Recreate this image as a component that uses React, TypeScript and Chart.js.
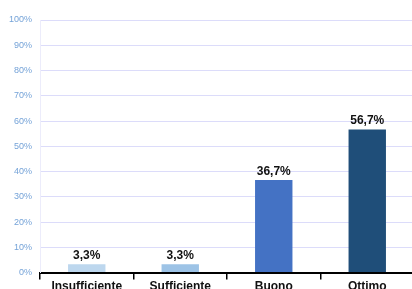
import React, { useEffect, useRef } from "react";
import { Chart, registerables } from "chart.js";

Chart.register(...registerables);

const categories = ["Insufficiente", "Sufficiente", "Buono", "Ottimo"];
const values = [3.3, 3.3, 36.7, 56.7];
const barColors = ["#bdd7ee", "#9dc3e6", "#4472c4", "#1f4e79"];
const valueLabels = ["3,3%", "3,3%", "36,7%", "56,7%"];

const dataLabelPlugin = {
  id: "dataLabels",
  afterDatasetsDraw(chart: any) {
    const ctx = chart.ctx;
    const meta = chart.getDatasetMeta(0);
    ctx.save();
    ctx.font = "bold 12px 'Liberation Sans', Arial, sans-serif";
    ctx.fillStyle = "#111111";
    ctx.textAlign = "center";
    ctx.textBaseline = "alphabetic";
    meta.data.forEach((el: any, i: number) => {
      ctx.fillText(valueLabels[i], el.x, el.y - 5);
    });
    ctx.restore();
  },
};

export default function App() {
  const ref = useRef<HTMLCanvasElement>(null);
  useEffect(() => {
    document.body.style.margin = "0";
    const chart = new Chart(ref.current!, {
      type: "bar",
      data: {
        labels: categories,
        datasets: [
          {
            data: values,
            backgroundColor: barColors,
            barPercentage: 0.4,
            categoryPercentage: 1,
          },
        ],
      },
      options: {
        animation: false,
        responsive: false,
        devicePixelRatio: 1,
        layout: { padding: { top: 20, right: 16, left: 0, bottom: 0 } },
        plugins: { legend: { display: false }, tooltip: { enabled: false } },
        scales: {
          x: {
            grid: {
              offset: true,
              drawOnChartArea: false,
              drawTicks: true,
              tickLength: 7,
              color: "#000000",
              lineWidth: 1.5,
            },
            border: { color: "#000000", width: 2 },
            ticks: {
              color: "#111111",
              padding: 0,
              maxRotation: 0,
              font: { family: "'Liberation Sans', Arial, sans-serif", size: 12, weight: "bold" },
            },
          },
          y: {
            min: 0,
            max: 100,
            afterFit(scale: any) {
              scale.width = 40;
            },
            grid: { color: "#dcdcfa", drawTicks: false, lineWidth: 1 },
            border: { color: "#ececfb" },
            ticks: {
              stepSize: 10,
              padding: 8,
              color: "#75a3d8",
              font: { family: "'Liberation Sans', Arial, sans-serif", size: 9 },
              callback: (v: any) => v + "%",
            },
          },
        },
      },
      plugins: [dataLabelPlugin],
    } as any);
    return () => chart.destroy();
  }, []);
  return (
    <div style={{ position: "absolute", left: 0, top: 0 }}>
      <canvas ref={ref} width={430} height={294} style={{ display: "block" }} />
    </div>
  );
}
